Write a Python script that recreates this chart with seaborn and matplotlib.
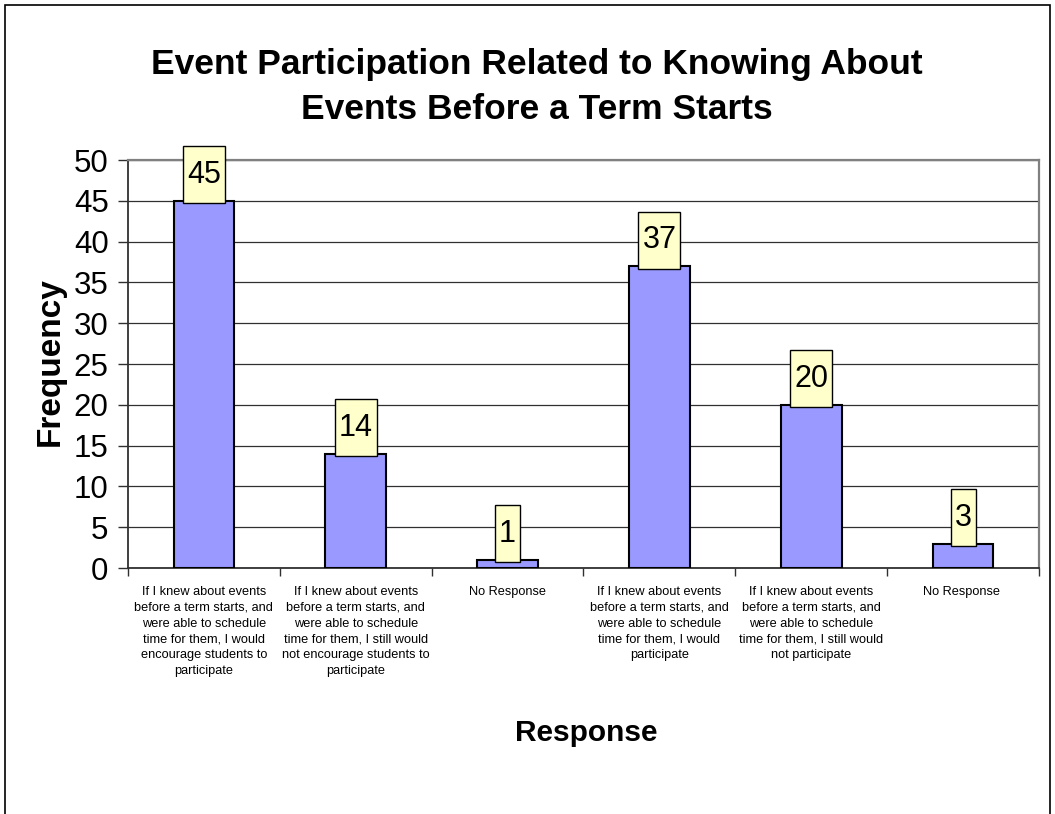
import matplotlib
matplotlib.use("Agg")
import matplotlib.pyplot as plt
import seaborn as sns
import pandas as pd
from matplotlib.patches import Rectangle

categories = [
    "If I knew about events\nbefore a term starts, and\nwere able to schedule\ntime for them, I would\nencourage students to\nparticipate",
    "If I knew about events\nbefore a term starts, and\nwere able to schedule\ntime for them, I still would\nnot encourage students to\nparticipate",
    "No Response",
    "If I knew about events\nbefore a term starts, and\nwere able to schedule\ntime for them, I would\nparticipate",
    "If I knew about events\nbefore a term starts, and\nwere able to schedule\ntime for them, I still would\nnot participate",
    "No Response ",
]
values = [45, 14, 1, 37, 20, 3]
y_ticks = [0, 5, 10, 15, 20, 25, 30, 35, 40, 45, 50]

sns.set_theme(style="white")
plt.rcParams['font.family'] = ['Liberation Sans', 'DejaVu Sans']
plt.rcParams['text.color'] = 'black'
plt.rcParams['axes.labelcolor'] = 'black'
plt.rcParams['xtick.color'] = 'black'
plt.rcParams['ytick.color'] = 'black'

df = pd.DataFrame({"Response": categories, "Frequency": values})

W, H = 1055, 814
fig = plt.figure(figsize=(W / 100, H / 100), dpi=100)
ax = fig.add_axes([128 / W, 1 - 568 / H, (1039 - 128) / W, (568 - 160) / H])

sns.barplot(data=df, x="Response", y="Frequency", ax=ax, color="#9999FF",
            saturation=1, width=0.4, edgecolor="black", linewidth=1.5, zorder=3)

ax.set_ylim(0, 50)
ax.set_xlim(-0.5, len(categories) - 0.5)
ax.set_yticks(y_ticks)
ax.set_yticklabels([str(t) for t in y_ticks], fontsize=22.5)
ax.yaxis.grid(True, color="#303030", linewidth=0.9)
ax.xaxis.grid(False)
ax.set_axisbelow(True)
for s in ["top", "right"]:
    ax.spines[s].set_visible(True)
    ax.spines[s].set_color("#808080")
    ax.spines[s].set_linewidth(1.6)
for s in ["left", "bottom"]:
    ax.spines[s].set_color("#303030")
    ax.spines[s].set_linewidth(1.3)

ax.set_xticks(range(len(categories)))
ax.set_xticklabels(categories, fontsize=9.2, linespacing=1.42, va="top")
ax.tick_params(axis="x", length=0, pad=13)
ax.set_xticks([i - 0.5 for i in range(len(categories) + 1)], minor=True)
ax.tick_params(axis="x", which="minor", length=6, width=1, color="#303030", direction="out", bottom=True)
ax.tick_params(axis="y", length=7, width=1, color="#303030", direction="out", left=True, pad=7)

ax.set_ylabel("")
ax.set_xlabel("")
fig.text(50 / W, 1 - 362 / H, "Frequency", fontsize=24, fontweight="bold", ha="center", va="center", rotation=90)
fig.text(586 / W, 1 - 733 / H, "Response", fontsize=21.5, fontweight="bold", ha="center", va="center")

fig.text(537 / W, 1 - 87 / H, "Event Participation Related to Knowing About\nEvents Before a Term Starts",
         fontsize=25.5, fontweight="bold", ha="center", va="center", linespacing=1.45)

# value labels in yellow boxes
texts = []
for i, v in enumerate(values):
    t = ax.annotate(str(v), xy=(i, v), xytext=(0, 26), textcoords="offset pixels",
                    ha="center", va="center", fontsize=22, zorder=6, annotation_clip=False)
    texts.append(t)

fig.canvas.draw()
renderer = fig.canvas.get_renderer()
inv = ax.transData.inverted()
for t in texts:
    bb = t.get_window_extent(renderer)
    cx = (bb.x0 + bb.x1) / 2
    cy = (bb.y0 + bb.y1) / 2
    bw = bb.width + 8
    bh = 57
    (x0, y0) = inv.transform((cx - bw / 2, cy - bh / 2))
    (x1, y1) = inv.transform((cx + bw / 2, cy + bh / 2))
    ax.add_patch(Rectangle((x0, y0), x1 - x0, y1 - y0, facecolor="#FFFFCC", edgecolor="black",
                           linewidth=1, zorder=5, clip_on=False))

fig.patches.append(Rectangle((5 / W, -0.01), 1045 / W, 1 - 5 / H + 0.01, transform=fig.transFigure,
                             fill=False, edgecolor="black", linewidth=1.2))

fig.savefig("out.png", dpi=100, facecolor="white")
